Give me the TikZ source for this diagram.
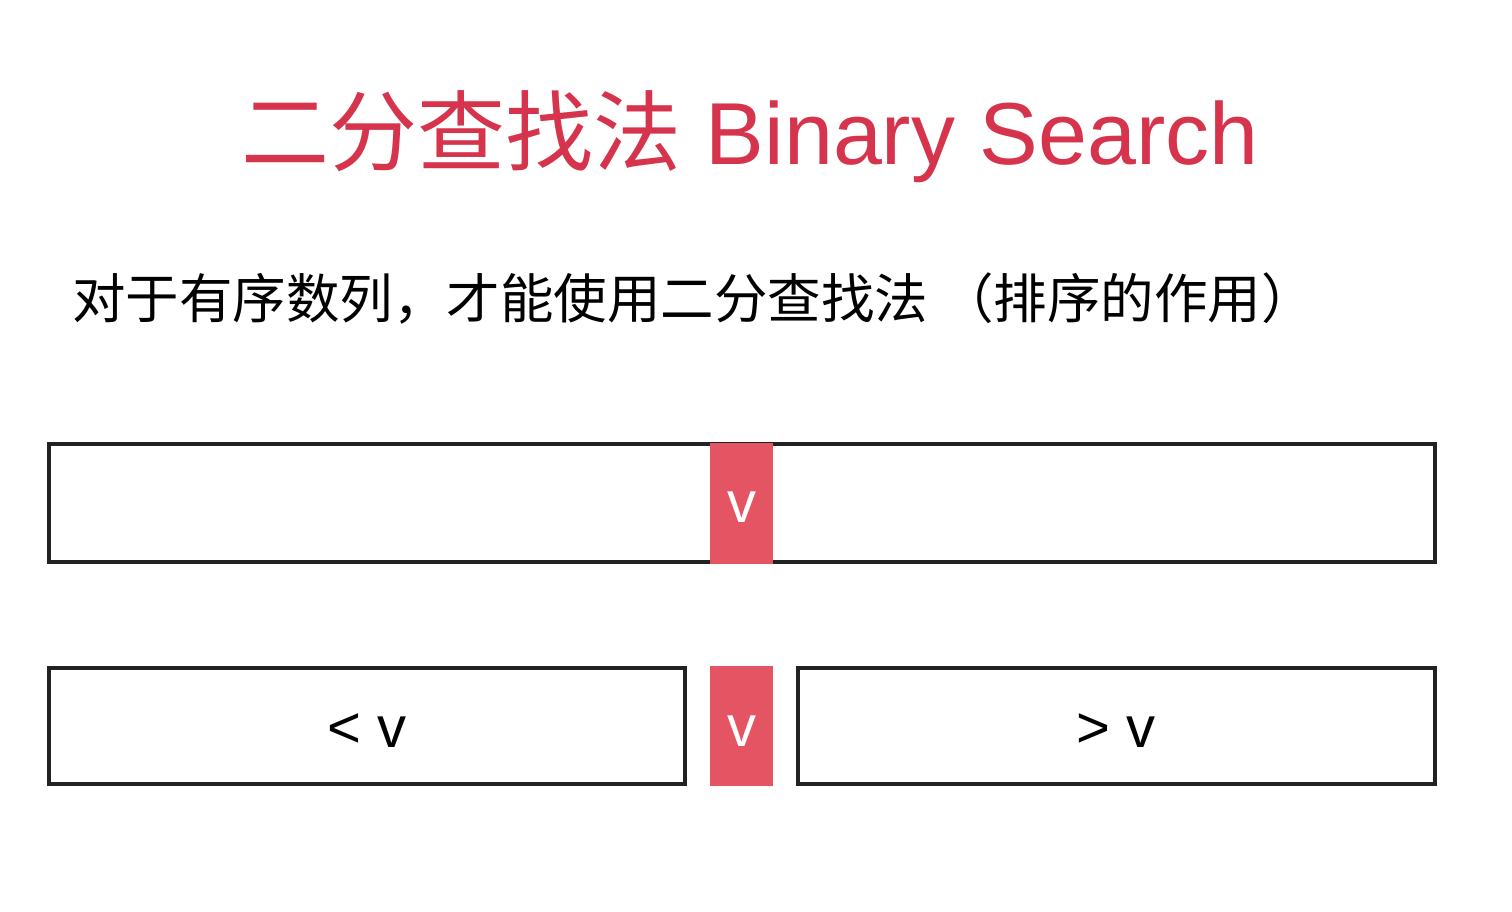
\documentclass[tikz,border=0pt]{standalone}
\usepackage{fontspec}
\setmainfont{Liberation Sans}
\newfontfamily\cjk{Noto Sans CJK SC}
\definecolor{titlered}{RGB}{214,52,76}
\definecolor{pivotred}{RGB}{228,84,98}
\definecolor{framegray}{RGB}{34,34,34}
\begin{document}
\begin{tikzpicture}[x=1pt,y=-1pt,
  frame/.style={draw=framegray,line width=3.4pt},
  pivot/.style={fill=pivotred,draw=none},
  label/.style={inner sep=0pt,font=\fontsize{58}{60}\selectfont},
  pivotlabel/.style={label,text=white}]
  \useasboundingbox (0,0) rectangle (1512,912);
  \fill[white] (0,0) rectangle (1512,912);

  % heading and remark
  \node[inner sep=0pt,anchor=base,text=titlered,font=\fontsize{88}{90}\selectfont] (title) at (750,165)
    {{\cjk 二分查找法} Binary Search};
  \node[inner sep=0pt,anchor=base west,font=\fontsize{53.5}{56}\selectfont\cjk] (remark) at (72,318)
    {对于有序数列，才能使用二分查找法 （排序的作用）};

  % the whole sorted array with its middle element
  \draw[frame] (49,444) rectangle (1435,562);
  \path[pivot] (710,443) rectangle (773,564);
  \node[pivotlabel] (mid) at (741.5,507) {v};

  % after the split: smaller part, pivot, larger part
  \draw[frame] (49,668) rectangle (685,784);
  \node[label] (less) at (367,731) {< v};
  \path[pivot] (710,666) rectangle (773,786);
  \node[pivotlabel] (mid2) at (741.5,731) {v};
  \draw[frame] (798,668) rectangle (1435,784);
  \node[label] (more) at (1116,731) {> v};
\end{tikzpicture}
\end{document}
